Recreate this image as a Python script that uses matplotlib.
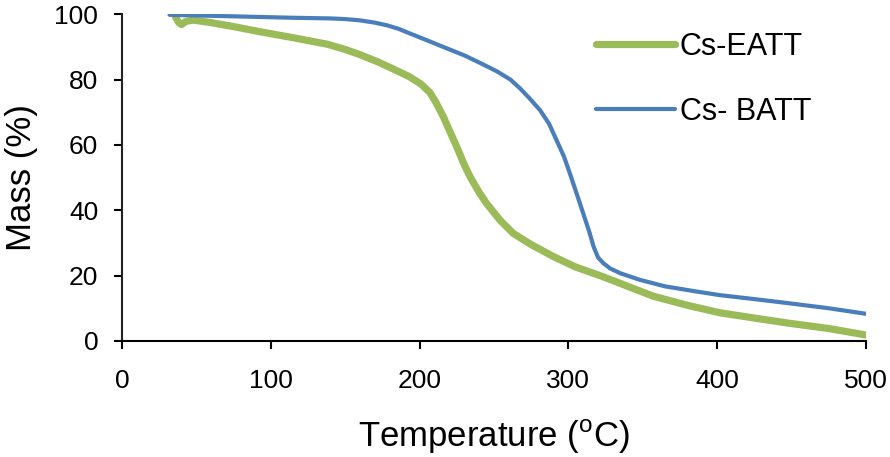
import numpy as np
import matplotlib.pyplot as plt

plt.rcParams['font.family'] = ['Liberation Sans', 'DejaVu Sans']
plt.rcParams['mathtext.fontset'] = 'custom'
plt.rcParams['mathtext.rm'] = 'Liberation Sans'

# Cs-EATT (green)
eatt_temp = [36, 38, 40, 43, 48, 60, 75, 93, 115, 138, 150, 160, 172, 182, 193, 201,
             207, 211, 216, 220, 225, 230, 234, 240, 245, 254, 263, 275, 290, 305,
             323, 340, 357, 380, 402, 425, 447, 475, 500]
eatt_mass = [99.2, 97.5, 96.8, 97.8, 98.2, 97.4, 96.2, 94.6, 92.8, 90.8, 89.2, 87.6, 85.4,
             83.3, 80.9, 78.6, 76.0, 73.0, 68.6, 64.5, 59.4, 54, 50.2, 45.5, 42.1,
             37, 32.9, 29.5, 25.8, 22.6, 19.7, 16.7, 13.7, 10.9, 8.6, 7, 5.5, 3.8, 1.8]

# Cs-BATT (blue)
batt_temp = [32, 60, 115, 140, 150, 160, 170, 178, 186, 193.5, 205, 218, 230, 241, 252,
             261, 267.5, 274, 281, 287, 292, 297, 301, 306, 310, 314, 317, 320, 323.5,
             328, 335, 348, 365, 385, 402, 425, 447, 475, 500]
batt_mass = [99.8, 99.5, 98.9, 98.7, 98.5, 98.1, 97.4, 96.6, 95.5, 94.1, 92, 89.6, 87.4,
             85, 82.5, 80, 77.3, 74.2, 70.6, 66.5, 61.5, 56.5, 51.3, 44.5, 39, 33.5,
             28.8, 25.5, 23.8, 22.2, 20.7, 18.7, 16.7, 15.2, 14, 12.8, 11.6, 10, 8.3]

x_ticks = [0, 100, 200, 300, 400, 500]
y_ticks = [0, 20, 40, 60, 80, 100]

fig = plt.figure(figsize=(8.9, 4.57), dpi=100)
ax = fig.add_axes([0.137, 0.254, 0.836, 0.715])

ax.plot(eatt_temp, eatt_mass, color='#9BBB59', lw=5.2, solid_capstyle='round',
        solid_joinstyle='round', label='Cs-EATT')
ax.plot(batt_temp, batt_mass, color='#4A7EBB', lw=3, solid_capstyle='round',
        solid_joinstyle='round', label='Cs- BATT')

ax.set_xlim(0, 500)
ax.set_ylim(0, 100)
ax.set_xticks(x_ticks)
ax.set_yticks(y_ticks)
ax.tick_params(labelsize=19, width=1.5, length=6, direction='out')
ax.tick_params(axis='x', pad=14)
ax.tick_params(axis='y', pad=11)
for s in ['top', 'right']:
    ax.spines[s].set_visible(False)
for s in ['left', 'bottom']:
    ax.spines[s].set_linewidth(1.5)
ax.spines['left'].set_color('#222222')

ax.set_xlabel('Temperature ($^{\\mathrm{o}}$C)', fontsize=25, labelpad=18)
ax.set_ylabel('Mass (%)', fontsize=25, labelpad=12)

ax.legend(loc='upper left', bbox_to_anchor=(0.60, 1.03), frameon=False, fontsize=22,
          handlelength=2.6, handletextpad=0.15, labelspacing=1.15)

fig.savefig('out.png', dpi=100)
